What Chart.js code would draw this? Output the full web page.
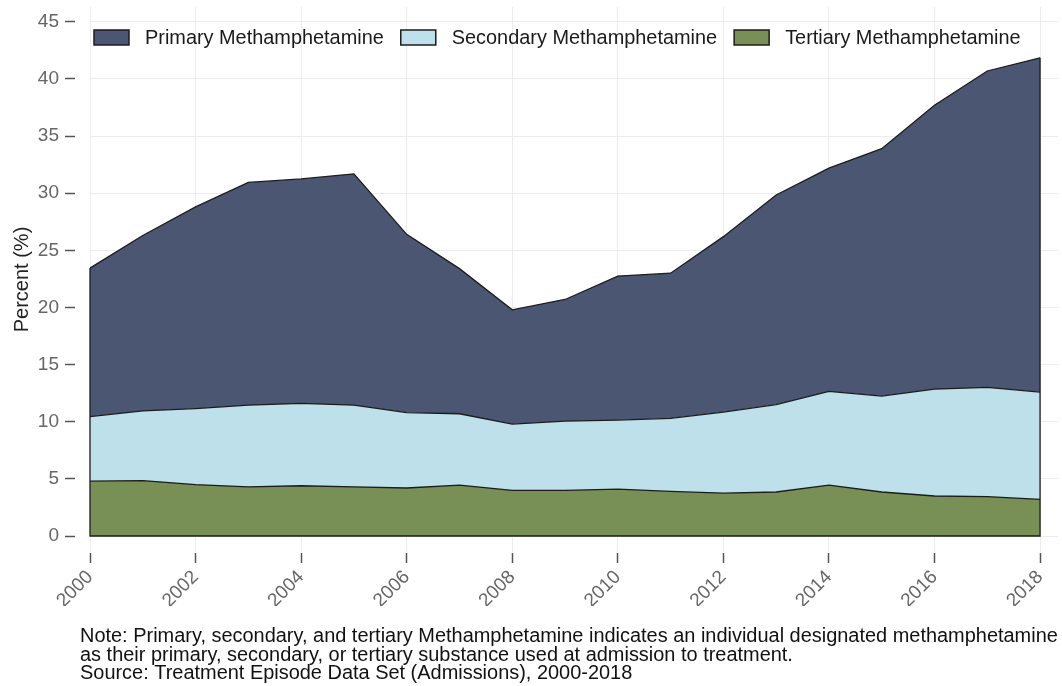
<!DOCTYPE html>
<html><head><meta charset="utf-8">
<script src="https://cdn.jsdelivr.net/npm/chart.js@4.4.0/dist/chart.umd.min.js"></script>
<style>html,body{margin:0;padding:0;background:#fff;overflow:hidden}#wrap{width:1062px;height:686px;position:relative}</style>
</head><body><div id="wrap"><canvas id="c" width="1062" height="686"></canvas></div>
<script>
// ---- data ----
const years = [2000,2001,2002,2003,2004,2005,2006,2007,2008,2009,2010,2011,2012,2013,2014,2015,2016,2017,2018];
const primary   = [13.0,15.35,17.65,19.5,19.65,20.25,15.6,12.7,10.0,10.65,12.6,12.7,15.35,18.35,19.55,21.65,24.85,27.7,29.25];
const secondary = [5.65,6.1,6.65,7.15,7.2,7.15,6.6,6.25,5.8,6.05,6.05,6.4,7.1,7.65,8.2,8.4,9.35,9.55,9.4];
const tertiary  = [4.8,4.85,4.5,4.3,4.4,4.3,4.2,4.45,4.0,4.0,4.1,3.9,3.75,3.85,4.45,3.85,3.5,3.45,3.2];
const seriesLabels = ['Primary Methamphetamine','Secondary Methamphetamine','Tertiary Methamphetamine'];
const yTicks = [0,5,10,15,20,25,30,35,40,45];
const xTicks = [2000,2002,2004,2006,2008,2010,2012,2014,2016,2018];
const yTitle = 'Percent (%)';
const noteLines = [
  'Note: Primary, secondary, and tertiary Methamphetamine indicates an individual designated methamphetamine',
  'as their primary, secondary, or tertiary substance used at admission to treatment.',
  'Source: Treatment Episode Data Set (Admissions), 2000-2018'
];

const FONT = "'Liberation Sans', Arial, sans-serif";
const colors = {primary:'#4b5673', secondary:'#bde0ea', tertiary:'#788f56', edge:'#1c1c1c'};

const pts = arr => years.map((yr,i)=>({x:yr, y:arr[i]}));

const outlinePlugin = {
  id:'outline',
  afterDatasetsDraw(chart){
    const ctx = chart.ctx, ys = chart.scales.y;
    const top = chart.getDatasetMeta(2).data;
    const base = ys.getPixelForValue(0);
    const l = top[0], r = top[top.length-1];
    ctx.save();
    ctx.strokeStyle = colors.edge; ctx.lineWidth = 1.3; ctx.lineJoin='miter';
    ctx.beginPath();
    ctx.moveTo(l.x, l.y); ctx.lineTo(l.x, base); ctx.lineTo(r.x, base); ctx.lineTo(r.x, r.y);
    ctx.stroke();
    ctx.restore();
  }
};

const legendPlugin = {
  id:'customLegend',
  afterDraw(chart){
    const ctx = chart.ctx;
    const ds = chart.data.datasets;
    const order = [2,1,0];
    ctx.save();
    ctx.font = '20px ' + FONT;
    let total = 0; order.forEach(i=> total += ctx.measureText(ds[i].label).width);
    const size = 20 * (238+266+236) / total;
    ctx.font = size.toFixed(2) + 'px ' + FONT;
    let x = 94;
    const boxW = 35, boxH = 15, boxTop = 30;
    order.forEach(i=>{
      const d = ds[i];
      ctx.fillStyle = d.backgroundColor;
      ctx.fillRect(x, boxTop, boxW, boxH);
      ctx.strokeStyle = colors.edge; ctx.lineWidth = 1.5;
      ctx.strokeRect(x, boxTop, boxW, boxH);
      const tx = x + boxW + 16;
      ctx.fillStyle = '#1a1a1a';
      ctx.textBaseline = 'alphabetic'; ctx.textAlign='left';
      ctx.fillText(d.label, tx, 44);
      x = tx + ctx.measureText(d.label).width + 17;
    });
    ctx.restore();
  }
};

const notePlugin = {
  id:'note',
  afterDraw(chart){
    const ctx = chart.ctx;
    ctx.save();
    ctx.font = '20px ' + FONT;
    const w = ctx.measureText(noteLines[0]).width;
    const size = 20 * 978 / w;
    ctx.font = size.toFixed(2) + 'px ' + FONT;
    ctx.fillStyle = '#111';
    ctx.textAlign='left'; ctx.textBaseline='alphabetic';
    const baselines = [642, 661, 679];
    noteLines.forEach((t,i)=> ctx.fillText(t, 80, baselines[i]));
    ctx.restore();
  }
};

function noPad(s){ s.paddingTop = 0; s.paddingBottom = 0; s.paddingLeft = 0; s.paddingRight = 0; }

new Chart(document.getElementById('c'), {
  type:'line',
  data:{
    datasets:[
      {label:seriesLabels[2], data:pts(tertiary), backgroundColor:colors.tertiary, borderColor:colors.edge, borderWidth:1.3, fill:'origin', pointRadius:0, tension:0},
      {label:seriesLabels[1], data:pts(secondary), backgroundColor:colors.secondary, borderColor:colors.edge, borderWidth:1.3, fill:'-1', pointRadius:0, tension:0},
      {label:seriesLabels[0], data:pts(primary), backgroundColor:colors.primary, borderColor:colors.edge, borderWidth:1.3, fill:'-1', pointRadius:0, tension:0}
    ]
  },
  options:{
    responsive:false, animation:false, devicePixelRatio:1,
    layout:{padding:{top:7,right:4,bottom:80,left:0}},
    plugins:{legend:{display:false}, tooltip:{enabled:false}, title:{display:false}},
    scales:{
      x:{
        type:'linear', min:2000, max:2018.34,
        afterBuildTicks(s){ s.ticks = xTicks.map(v=>({value:v})); },
        afterFit(s){ s.height = 54; noPad(s); },
        border:{display:false},
        grid:{color:'#ececec', lineWidth:1, tickColor:'#555', tickWidth:1.5, tickLength:11, tickBorderDash:[10,1], tickBorderDashOffset:10},
        ticks:{autoSkip:false, minRotation:45, maxRotation:45, padding:3, color:'#666', font:{family:FONT, size:19}, callback:v=>String(v)}
      },
      y:{
        type:'linear', stacked:true, min:-1.4, max:46.3,
        afterBuildTicks(s){ s.ticks = yTicks.map(v=>({value:v})); },
        afterFit(s){ s.width = 90; noPad(s); },
        border:{display:false},
        grid:{color:'#ececec', lineWidth:1, tickColor:'#555', tickWidth:1.5, tickLength:25, tickBorderDash:[10,40], tickBorderDashOffset:0},
        ticks:{padding:6, color:'#666', font:{family:FONT, size:19}, callback:v=>String(v)},
        title:{display:true, text:yTitle, color:'#222', font:{family:FONT, size:20}, padding:{top:10,bottom:0}}
      }
    }
  },
  plugins:[outlinePlugin, legendPlugin, notePlugin]
});
</script></body></html>
